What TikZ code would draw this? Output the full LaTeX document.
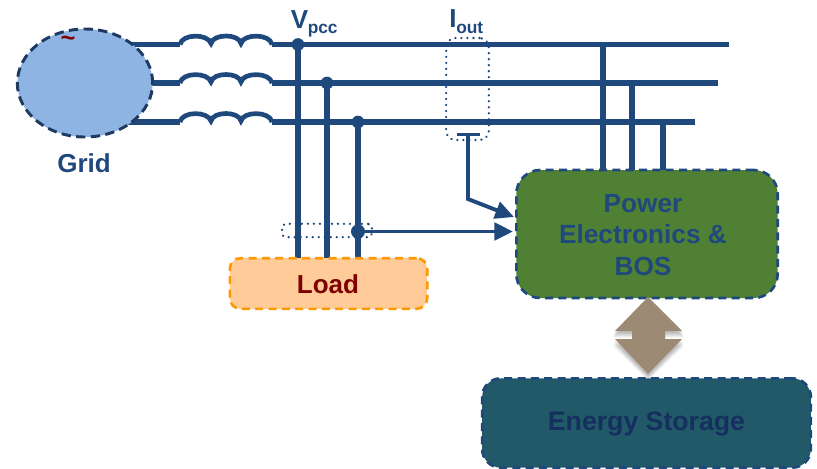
\documentclass[tikz,border=0pt]{standalone}
\usepackage{fontspec}
\setmainfont{Liberation Sans}
\usetikzlibrary{shapes.geometric,arrows.meta}
\definecolor{wire}{HTML}{1F497D}
\definecolor{navy}{HTML}{1F3A60}
\definecolor{gridfill}{HTML}{8EB4E3}
\definecolor{loadfill}{HTML}{FFCC99}
\definecolor{loaddash}{HTML}{FF9900}
\definecolor{loadtext}{HTML}{7F0000}
\definecolor{pefill}{HTML}{4F8033}
\definecolor{esfill}{HTML}{215968}
\definecolor{estext}{HTML}{152F5E}
\definecolor{tan}{HTML}{9C8A74}
\tikzset{
  wireline/.style={draw=wire,line width=3.9pt},
  coil/.style={draw=wire,line width=3.5pt},
  junction/.style={circle,fill=wire,minimum size=9.5pt,inner sep=0pt},
  dotbox/.style={draw=wire,line width=1.9pt,dash pattern=on 0.01pt off 4.5pt,line cap=round,fill=none,rounded corners=7pt,inner sep=0pt},
  blockbox/.style={rectangle,draw=wire,line width=2pt,dash pattern=on 6pt off 4pt,inner sep=0pt,align=center,text=wire},
  lbl/.style={inner sep=0pt,anchor=base west,text=wire,font=\bfseries\fontsize{19.5}{22}\selectfont},
  sublbl/.style={inner sep=0pt,anchor=base west,text=wire,font=\bfseries\fontsize{13}{15}\selectfont},
  arrowline/.style={draw=wire,line width=2.9pt,-{Triangle[length=14pt,width=13pt]}},
}
\begin{document}
\begin{tikzpicture}[x=0.75pt,y=-0.75pt]
\useasboundingbox (0,0) rectangle (817,468);
% named points
\coordinate (a0) at (125,44.5); \coordinate (a1) at (180,44.5); \coordinate (a2) at (272,44.5); \coordinate (a3) at (729,44.5);
\coordinate (b0) at (135,83); \coordinate (b1) at (180,83); \coordinate (b2) at (272,83); \coordinate (b3) at (718,83);
\coordinate (c0) at (125,122); \coordinate (c1) at (180,122); \coordinate (c2) at (272,122); \coordinate (c3) at (695,122);
\coordinate (ja) at (298,44.5); \coordinate (jb) at (327,83); \coordinate (jc) at (358,122);
\coordinate (la) at (298,262); \coordinate (lb) at (327,262); \coordinate (lc) at (358,262);
\coordinate (pa) at (603,44.5); \coordinate (pb) at (632,83); \coordinate (pc) at (663,122);
\coordinate (qa) at (603,172); \coordinate (qb) at (632,172); \coordinate (qc) at (663,172);
\coordinate (ta) at (457,134.5); \coordinate (tb) at (480,134.5); \coordinate (tm) at (468,134.5);
\coordinate (bend) at (468,199); \coordinate (tip1) at (514,217); \coordinate (tip2) at (513,231.5);
% wires
\draw[wireline] (a0) -- (a1) (a2) -- (a3);
\draw[wireline] (b0) -- (b1) (b2) -- (b3);
\draw[wireline] (c0) -- (c1) (c2) -- (c3);
\foreach \yy in {44.5,83,122}{
  \draw[coil] (180,\yy) .. controls (182,\yy-11) and (208,\yy-11) .. (211,\yy-1)
              .. controls (213,\yy-11) and (239,\yy-11) .. (241,\yy-1)
              .. controls (243,\yy-11) and (270,\yy-11) .. (272,\yy);
}
\draw[wireline] (ja) -- (la);
\draw[wireline] (jb) -- (lb);
\draw[wireline] (jc) -- (lc);
\draw[wireline] (pa) -- (qa);
\draw[wireline] (pb) -- (qb);
\draw[wireline] (pc) -- (qc);
\node[junction] (dja) at (298,44.5) {};
\node[junction] (djb) at (327,83) {};
\node[junction] (djc) at (358,122) {};
\node[junction,minimum size=10.5pt] (dload) at (358,231.5) {};
% sensors
\node[dotbox,minimum width=32pt,minimum height=76.5pt] (iout) at (467.5,89) {};
\node[dotbox,rounded corners=3pt,minimum width=67.5pt,minimum height=10pt] (vsense) at (327,230.5) {};
\draw[draw=wire,line width=2.6pt] (ta) -- (tb);
\draw[arrowline] (tm) -- (bend) -- (tip1);
\draw[arrowline] (dload) -- (tip2);
% blocks
\node[ellipse,draw=navy,line width=2.2pt,dash pattern=on 7pt off 4pt,fill=gridfill,minimum width=101.5pt,minimum height=81pt,inner sep=0pt] (grid) at (85,83) {};
\node[inner sep=0pt,text=loadtext,font=\bfseries\fontsize{19}{22}\selectfont,anchor=base] (tilde) at (68,46) {\char`\~};
\node[lbl,anchor=base] (gridl) at (84,172) {Grid};
\node[blockbox,draw=loaddash,fill=loadfill,rounded corners=8pt,minimum width=148pt,minimum height=38pt] (load) at (328.5,283.5) {};
\node[inner sep=0pt,anchor=base,text=loadtext,font=\bfseries\fontsize{19.5}{22}\selectfont] (loadl) at (328,293) {Load};
\node[blockbox,fill=pefill,rounded corners=18pt,minimum width=196pt,minimum height=96pt] (pe) at (647,234) {};
\node[inner sep=0pt,align=center,anchor=center,text=wire,font=\bfseries\fontsize{19.7}{23.6}\selectfont] (pel) at (643,235) {Power\\Electronics \&\\BOS};
\node[blockbox,fill=esfill,rounded corners=14pt,minimum width=246.5pt,minimum height=67pt] (es) at (646.5,423) {};
\node[inner sep=0pt,anchor=base,text=estext,font=\bfseries\fontsize{20}{24}\selectfont] (esl) at (646.5,430) {Energy Storage};
% double arrow with a soft shadow
\foreach \d/\o in {7/0.03,6/0.04,5/0.05,4/0.05,3/0.06,2/0.06}{
  \fill[black,opacity=\o] (648,297+\d) -- (682+\d/3,331+\d) -- (665,331+\d) -- (665,339+\d) -- (682+\d/3,339+\d) -- (648,374+\d) -- (615-\d/3,339+\d) -- (632,339+\d) -- (632,331+\d) -- (615-\d/3,331+\d) -- cycle;
}
\fill[tan] (648,297) -- (682,331) -- (665,331) -- (665,339) -- (682,339) -- (648,374) -- (615,339) -- (632,339) -- (632,331) -- (615,331) -- cycle;
% labels
\node[lbl] (v) at (290.5,28) {V};
\node[sublbl] (vs) at (307.5,33) {pcc};
\node[lbl] (i) at (449,27) {I};
\node[sublbl] (is) at (456,33) {out};
\end{tikzpicture}
\end{document}
